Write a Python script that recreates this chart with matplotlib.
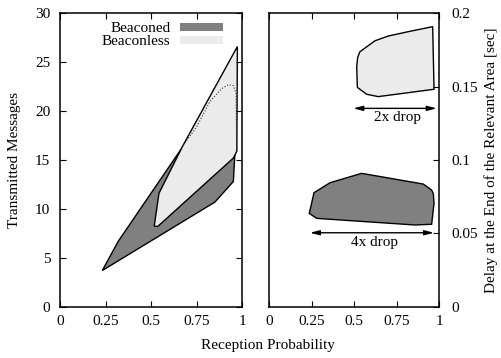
import matplotlib
matplotlib.use('Agg')
import matplotlib.pyplot as plt
from matplotlib.patches import Polygon, Patch

plt.rcParams['font.family'] = ['Liberation Serif', 'DejaVu Serif']
plt.rcParams['font.size'] = 11

# left panel: transmitted messages vs reception probability
beaconed_prob = [0.232, 0.32, 0.675, 0.96, 0.958, 0.951, 0.85]
beaconed_msgs = [3.7, 6.7, 16.4, 15.85, 15.2, 12.8, 10.7]
beaconless_prob = [0.517, 0.536, 0.951, 0.97, 0.973, 0.675, 0.543]
beaconless_msgs = [8.25, 8.2, 15.2, 15.9, 26.6, 16.5, 11.6]
dotted_prob = [0.676, 0.75, 0.823, 0.887, 0.923, 0.951, 0.966, 0.969, 0.972]
dotted_msgs = [16.5, 18.4, 21.0, 22.3, 22.7, 22.6, 21.8, 16.4, 15.95]

# right panel: delay vs reception probability
beaconed_delay_prob = [0.543, 0.357, 0.263, 0.235, 0.279, 0.857, 0.955, 0.969, 0.965, 0.955, 0.906]
beaconed_delay = [0.0909, 0.0845, 0.0777, 0.0636, 0.0602, 0.0557, 0.0562, 0.0705, 0.077, 0.0795, 0.0836]
beaconless_delay_prob = [0.533, 0.622, 0.70, 0.818, 0.961, 0.969, 0.955, 0.641, 0.573, 0.518, 0.514, 0.52]
beaconless_delay = [0.1738, 0.1813, 0.1845, 0.1875, 0.1909, 0.1482, 0.148, 0.1432, 0.1448, 0.1495, 0.1636, 0.170]

drop2x = (0.494, 0.985, 0.1352)
drop4x = (0.239, 0.969, 0.0504)

dark = '#808080'
light = '#ebebeb'

fig = plt.figure(figsize=(5.01, 3.58), dpi=100)
ax1 = fig.add_axes([60 / 501, 51.3 / 358, 182.3 / 501, 293.4 / 358])
ax2 = fig.add_axes([269.3 / 501, 51.3 / 358, 170 / 501, 293.4 / 358])

ax1.add_patch(Polygon(list(zip(beaconed_prob, beaconed_msgs)), closed=True,
                      facecolor=dark, edgecolor='black', lw=1.0))
ax1.add_patch(Polygon(list(zip(beaconless_prob, beaconless_msgs)), closed=True,
                      facecolor=light, edgecolor='black', lw=1.0))
ax1.plot(dotted_prob, dotted_msgs, color='#333333', lw=0.8, ls=(0, (1, 1.6)))

ax1.set_xlim(0, 1)
ax1.set_ylim(0, 30)
ax1.set_xticks([0, 0.25, 0.5, 0.75, 1])
ax1.set_xticklabels(['0', '0.25', '0.5', '0.75', '1'])
ax1.set_yticks(range(0, 31, 5))
ax1.tick_params(direction='in', length=4, top=True, right=True)
ax1.tick_params(axis='x', pad=6)
ax1.tick_params(axis='y', pad=7)

handles = [Patch(facecolor=dark, edgecolor='none', label='Beaconed'),
           Patch(facecolor=light, edgecolor='none', label='Beaconless')]
ax1.legend(handles=handles, loc='upper right', bbox_to_anchor=(0.911, 0.98),
           frameon=False, markerfirst=False, handlelength=2.8, handleheight=0.42,
           handletextpad=0.65, labelspacing=0.0, borderaxespad=0.0, borderpad=0.2)

ax2.add_patch(Polygon(list(zip(beaconed_delay_prob, beaconed_delay)), closed=True,
                      facecolor=dark, edgecolor='black', lw=1.0))
ax2.add_patch(Polygon(list(zip(beaconless_delay_prob, beaconless_delay)), closed=True,
                      facecolor=light, edgecolor='black', lw=1.0))

arrow = dict(arrowstyle='<|-|>,head_length=0.5,head_width=0.13', color='black', lw=1.0,
             shrinkA=0, shrinkB=0)
for (x0, x1, y), label in [(drop2x, '2x drop'), (drop4x, '4x drop')]:
    ax2.annotate('', xy=(x0, y), xytext=(x1, y), arrowprops=arrow)
    ax2.annotate(label, xy=((x0 + x1) / 2 + 0.015, y), xytext=(0, -2),
                 textcoords='offset points', ha='center', va='top')

ax2.set_xlim(0, 1)
ax2.set_ylim(0, 0.2)
ax2.set_xticks([0, 0.25, 0.5, 0.75, 1])
ax2.set_xticklabels(['0', '0.25', '0.5', '0.75', '1'])
ax2.set_yticks([0, 0.05, 0.1, 0.15, 0.2])
ax2.set_yticklabels(['0', '0.05', '0.1', '0.15', '0.2'])
ax2.yaxis.tick_right()
ax2.tick_params(direction='in', length=4, top=True, left=False, right=True)
ax2.tick_params(axis='x', pad=6)
ax2.tick_params(axis='y', pad=9)

for ax in (ax1, ax2):
    for s in ax.spines.values():
        s.set_linewidth(1.1)

fig.text(15 / 501, 0.553, 'Transmitted Messages', rotation=90, ha='center', va='center')
fig.text(491 / 501, 0.553, 'Delay at the End of the Relevant Area [sec]',
         rotation=90, ha='center', va='center')
fig.text(267.5 / 501, (358 - 346) / 358, 'Reception Probability', ha='center', va='center')

fig.savefig('out.png', dpi=100)
